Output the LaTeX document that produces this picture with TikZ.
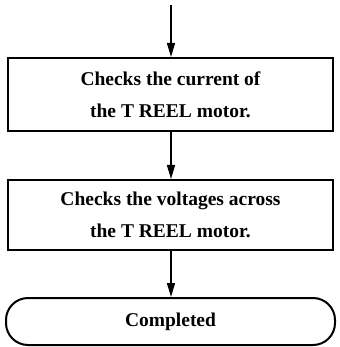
\documentclass[tikz,border=0pt]{standalone}
\usepackage{fontspec}
\setmainfont{Liberation Serif}
\usetikzlibrary{arrows.meta}
\begin{document}
\begin{tikzpicture}[x=1pt,y=-1pt,
  txt/.style={font=\fontsize{19.5}{32}\selectfont\bfseries},
  box/.style={draw,line width=2pt,minimum width=325pt,inner sep=0pt,align=center,txt},
  term/.style={draw,line width=2pt,rounded corners=22pt,minimum width=329pt,minimum height=47pt,inner sep=0pt,txt},
  arr/.style={line width=1.5pt,-{Triangle[length=14pt,width=8pt]}}]
\useasboundingbox (0,0) rectangle (339,347);
\coordinate (start) at (171,5);
\node[box,minimum height=73pt] (b1) at (170.5,94.5) {Checks the current of\\the T REEL motor.};
\node[box,minimum height=70pt] (b2) at (170.5,215) {Checks the voltages across\\the T REEL motor.};
\node[term] (done) at (170.5,321.5) {Completed};
\draw[arr] (start) -- (start |- b1.north);
\draw[arr] (b1.south -| start) -- (start |- b2.north);
\draw[arr] (b2.south -| start) -- (start |- done.north);
\end{tikzpicture}
\end{document}
